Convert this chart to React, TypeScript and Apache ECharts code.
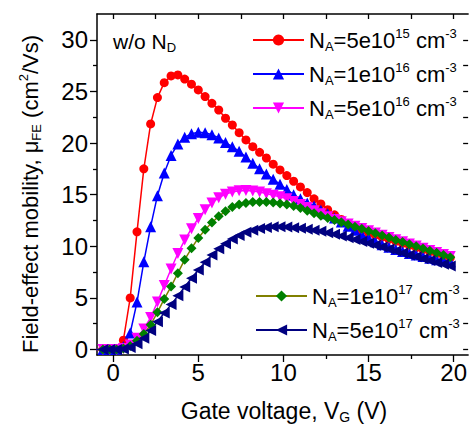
import React, { useEffect, useRef } from "react";
import * as echarts from "echarts";

// Gate voltage (V)
const gateVoltage = [
  -1.0, -0.6, -0.2, 0.2, 0.6,
  1.0, 1.4, 1.8, 2.2, 2.6, 3.0, 3.4, 3.8, 4.2, 4.6,
  5.0, 5.4, 5.8, 6.2, 6.6, 7.0, 7.4, 7.8, 8.2, 8.6,
  9.0, 9.4, 9.8, 10.2, 10.6, 11.0, 11.4, 11.8, 12.2, 12.6,
  13.0, 13.4, 13.8, 14.2, 14.6, 15.0, 15.4, 15.8, 16.2, 16.6,
  17.0, 17.4, 17.8, 18.2, 18.6, 19.0, 19.4, 19.8,
];

// Field-effect mobility (cm2/Vs)
const muNA5e15 = [
  0, 0, 0.01, 0.05, 0.9,
  5.0, 11.4, 17.5, 21.85, 24.4, 25.85, 26.5, 26.6, 26.2, 25.7,
  25.15, 24.5, 23.85, 23.2, 22.4, 21.75, 21.0, 20.3, 19.65, 19.1,
  18.55, 17.95, 17.4, 16.85, 16.3, 15.75, 15.2, 14.6, 14.1, 13.55,
  13.05, 12.6, 12.2, 11.85, 11.55, 11.3, 11.08, 10.88, 10.68, 10.48,
  10.28, 10.08, 9.88, 9.68, 9.48, 9.28, 9.08, 8.9,
];
const muNA1e16 = [
  0, 0, 0, 0.02, 0.3,
  1.6, 4.6, 8.5, 11.9, 14.9, 17.1, 18.8, 19.9, 20.55, 20.9,
  21.05, 21.0, 20.8, 20.5, 20.05, 19.65, 19.2, 18.65, 18.05, 17.5,
  17.0, 16.5, 16.0, 15.5, 15.0, 14.6, 14.2, 13.9, 13.5, 13.15,
  12.75, 12.35, 11.95, 11.55, 11.15, 10.8, 10.45, 10.15, 9.9, 9.7,
  9.5, 9.3, 9.15, 9.0, 8.85, 8.7, 8.6, 8.5,
];
const muNA5e16 = [
  0, 0, 0, 0.01, 0.1,
  0.45, 1.1, 2.0, 3.1, 4.6, 6.2, 7.8, 9.3, 10.6, 11.7,
  12.7, 13.55, 14.2, 14.7, 15.05, 15.25, 15.38, 15.4, 15.35, 15.25,
  15.1, 14.95, 14.8, 14.6, 14.35, 14.05, 13.75, 13.45, 13.15, 12.85,
  12.6, 12.38, 12.15, 11.93, 11.72, 11.5, 11.28, 11.07, 10.86, 10.64,
  10.43, 10.22, 10.02, 9.8, 9.6, 9.4, 9.2, 9.0,
];
const muNA1e17 = [
  0, 0, 0, 0.01, 0.1,
  0.35, 0.85, 1.5, 2.4, 3.6, 4.9, 6.1, 7.4, 8.7, 9.8,
  10.8, 11.6, 12.3, 12.9, 13.4, 13.8, 14.05, 14.2, 14.3, 14.3,
  14.3, 14.25, 14.15, 14.05, 13.9, 13.7, 13.45, 13.2, 12.95, 12.75,
  12.55, 12.33, 12.1, 11.9, 11.7, 11.48, 11.26, 11.05, 10.84, 10.62,
  10.41, 10.2, 10.0, 9.78, 9.57, 9.37, 9.16, 8.95,
];
const muNA5e17 = [
  0, 0, 0, 0, 0.05,
  0.2, 0.55, 1.1, 1.85, 2.7, 3.55, 4.35, 5.2, 6.05, 6.9,
  7.7, 8.45, 9.15, 9.75, 10.25, 10.7, 11.05, 11.35, 11.55, 11.72,
  11.83, 11.9, 11.9, 11.87, 11.8, 11.75, 11.66, 11.56, 11.45, 11.32,
  11.17, 11.0, 10.83, 10.65, 10.47, 10.29, 10.1, 9.92, 9.73, 9.54,
  9.35, 9.16, 8.98, 8.8, 8.62, 8.44, 8.27, 8.1,
];

const seriesNames = ["NA=5e15", "NA=1e16", "NA=5e16", "NA=1e17", "NA=5e17"];
const legendTexts: Record<string, string> = {
  "NA=5e15": "{n|N}{sub|A}{n|=5e10}{sup|15}{n| cm}{sup|-3}",
  "NA=1e16": "{n|N}{sub|A}{n|=1e10}{sup|16}{n| cm}{sup|-3}",
  "NA=5e16": "{n|N}{sub|A}{n|=5e10}{sup|16}{n| cm}{sup|-3}",
  "NA=1e17": "{n|N}{sub|A}{n|=1e10}{sup|17}{n| cm}{sup|-3}",
  "NA=5e17": "{n|N}{sub|A}{n|=5e10}{sup|17}{n| cm}{sup|-3}",
};

const xMajorTicks = [0, 5, 10, 15, 20];
const xMinorTicks = [2.5, 7.5, 12.5, 17.5];
const yMajorTicks = [0, 5, 10, 15, 20, 25, 30];
const yMinorTicks = [2.5, 7.5, 12.5, 17.5, 22.5, 27.5];

const FONT = "Liberation Sans, Arial, sans-serif";

export default function App() {
  const ref = useRef<HTMLDivElement>(null);

  useEffect(() => {
    if (!ref.current) return;
    const chart = echarts.init(ref.current, null, { renderer: "svg" });

    const XMIN = -0.95;
    const XMAX = 20.85;
    const YMIN = -0.53;
    const YMAX = 32.5;

    const axisLineStyle = { color: "#000", width: 1.5 };
    const tickLineStyle = { color: "#000", width: 1.3 };

    const rich = (main: number, small: number) => ({
      n: { fontSize: main, fontFamily: FONT, color: "#000", lineHeight: 26 },
      sub: { fontSize: small, fontFamily: FONT, color: "#000", lineHeight: 11, verticalAlign: "bottom" },
      sup: { fontSize: small, fontFamily: FONT, color: "#000", lineHeight: 13, verticalAlign: "top" },
    });

    const mk = (
      name: string,
      values: number[],
      color: string,
      lineColor: string,
      symbol: string,
      size: number,
      rotate: number
    ) => ({
      name,
      type: "line",
      xAxisIndex: 0,
      yAxisIndex: 0,
      data: gateVoltage.map((v, i) => [v, values[i]]),
      symbol,
      symbolSize: size,
      symbolRotate: rotate,
      showAllSymbol: true,
      itemStyle: { color },
      lineStyle: { color: lineColor, width: 1.5 },
      emphasis: { disabled: true },
    });

    const legendBase = {
      orient: "vertical",
      padding: 0,
      itemWidth: 51,
      itemHeight: 14,
      itemGap: 8,
      selectedMode: false,
      formatter: (name: string) => legendTexts[name],
      textStyle: { fontSize: 22, fontFamily: FONT, color: "#000", rich: rich(22, 13) },
    };

    const option: any = {
      animation: false,
      backgroundColor: "#fff",
      grid: { left: 97, right: 0, top: 14, bottom: 69, containLabel: false },
      xAxis: [
        {
          type: "value",
          min: XMIN,
          max: XMAX,
          position: "bottom",
          axisLine: { show: true, onZero: false, lineStyle: axisLineStyle },
          axisTick: { show: true, customValues: xMajorTicks, length: 7, lineStyle: tickLineStyle },
          axisLabel: { customValues: xMajorTicks, fontSize: 24, fontFamily: FONT, color: "#000", margin: 5 },
          splitLine: { show: false },
        },
        {
          type: "value",
          min: XMIN,
          max: XMAX,
          position: "bottom",
          axisLine: { show: false, onZero: false },
          axisTick: { show: true, customValues: xMinorTicks, length: 4, lineStyle: tickLineStyle },
          axisLabel: { show: false },
          splitLine: { show: false },
        },
        {
          type: "value",
          min: XMIN,
          max: XMAX,
          position: "top",
          axisLine: { show: true, onZero: false, lineStyle: axisLineStyle },
          axisTick: { show: true, inside: true, customValues: [...xMajorTicks, ...xMinorTicks], length: 5, lineStyle: tickLineStyle },
          axisLabel: { show: false },
          splitLine: { show: false },
        },
      ],
      yAxis: [
        {
          type: "value",
          min: YMIN,
          max: YMAX,
          position: "left",
          axisLine: { show: true, onZero: false, lineStyle: axisLineStyle },
          axisTick: { show: true, customValues: yMajorTicks, length: 7, lineStyle: tickLineStyle },
          axisLabel: { customValues: yMajorTicks, fontSize: 24, fontFamily: FONT, color: "#000", margin: 9 },
          splitLine: { show: false },
        },
        {
          type: "value",
          min: YMIN,
          max: YMAX,
          position: "left",
          axisLine: { show: false, onZero: false },
          axisTick: { show: true, customValues: yMinorTicks, length: 4, lineStyle: tickLineStyle },
          axisLabel: { show: false },
          splitLine: { show: false },
        },
        {
          type: "value",
          min: YMIN,
          max: YMAX,
          position: "right",
          axisLine: { show: false, onZero: false },
          axisTick: { show: true, inside: true, customValues: [...yMajorTicks, ...yMinorTicks], length: 5, lineStyle: tickLineStyle },
          axisLabel: { show: false },
          splitLine: { show: false },
        },
      ],
      legend: [
        { ...legendBase, data: seriesNames.slice(0, 3), left: 252, top: 27 },
        { ...legendBase, data: seriesNames.slice(3, 5), left: 255, top: 283 },
      ],
      graphic: [
        {
          type: "text",
          x: 113,
          y: 41,
          style: {
            text: "{n|w/o N}{sub|D}",
            rich: rich(21, 13),
            align: "left",
            verticalAlign: "middle",
          },
        },
        {
          type: "text",
          x: 284,
          y: 411,
          style: {
            text: "{n|Gate voltage, V}{sub|G}{n| (V)}",
            rich: rich(23, 14),
            align: "center",
            verticalAlign: "middle",
          },
        },
        {
          type: "text",
          x: 30,
          y: 194,
          rotation: Math.PI / 2,
          style: {
            text: "{n|Field-effect mobility, μ}{sub|FE}{n| (cm}{sup|2}{n|/Vs)}",
            rich: rich(22, 13),
            align: "center",
            verticalAlign: "middle",
          },
        },
      ],
      series: [
        mk(seriesNames[0], muNA5e15, "#ff0000", "#ff0000", "circle", 9, 0),
        mk(seriesNames[1], muNA1e16, "#0000ff", "#0000ff", "triangle", 11, 0),
        mk(seriesNames[2], muNA5e16, "#ff00ff", "#ff00ff", "triangle", 11, 180),
        mk(seriesNames[3], muNA1e17, "#008000", "#808000", "diamond", 10, 0),
        mk(seriesNames[4], muNA5e17, "#000080", "#000080", "triangle", 11, 90),
      ],
    };

    chart.setOption(option);
    return () => chart.dispose();
  }, []);

  return (
    <div
      ref={ref}
      style={{ position: "fixed", left: 0, top: 0, width: 470, height: 424, background: "#fff" }}
    />
  );
}
